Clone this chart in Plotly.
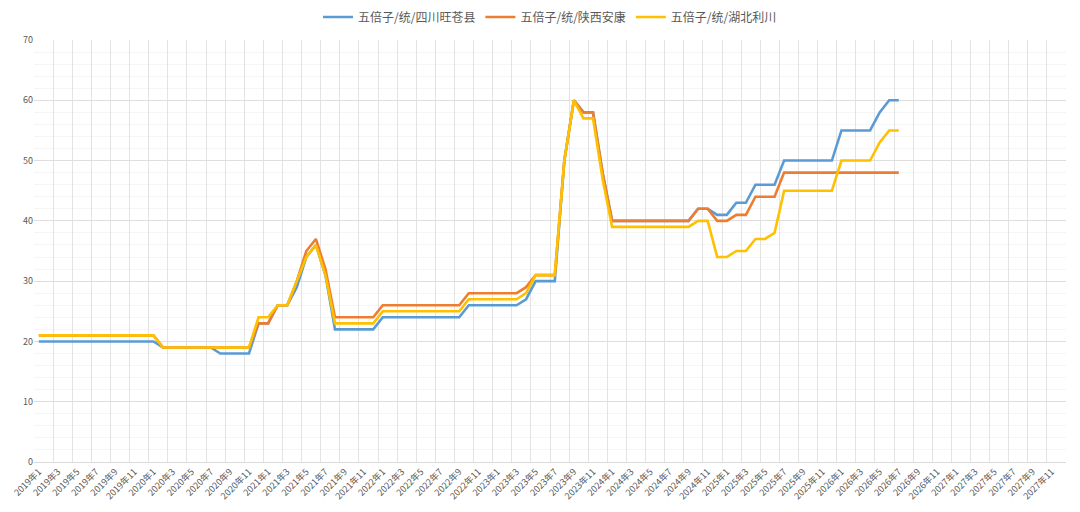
import plotly.graph_objects as go

# 月份类别：2019年1 ~ 2027年12
months = [f"{y}年{m}" for y in range(2019, 2028) for m in range(1, 13)]

# 五倍子/统 价格（2019年1 ~ 2026年7）
wangcang = [20] * 13 + [19] * 6 + [18] * 4 + [23, 23, 26, 26, 29, 34, 36, 31] \
    + [22] * 5 + [24] * 9 + [26] * 6 + [27, 30, 30, 30, 50, 60, 58, 58, 48] \
    + [40] * 9 + [42, 42, 41, 41, 43, 43, 46, 46, 46] + [50] * 6 \
    + [55] * 4 + [58, 60, 60]
ankang = [21] * 13 + [19] * 10 + [23, 23, 26, 26, 30, 35, 37, 32] \
    + [24] * 5 + [26] * 9 + [28] * 6 + [29, 31, 31, 31, 50, 60, 58, 58, 48] \
    + [40] * 9 + [42, 42, 40, 40, 41, 41, 44, 44, 44] + [48] * 6 \
    + [48] * 4 + [48, 48, 48]
lichuan = [21] * 13 + [19] * 10 + [24, 24, 26, 26, 30, 34, 36, 31] \
    + [23] * 5 + [25] * 9 + [27] * 6 + [28, 31, 31, 31, 50, 60, 57, 57, 47] \
    + [39] * 9 + [40, 40, 34, 34, 35, 35, 37, 37, 38] + [45] * 6 \
    + [50] * 4 + [53, 55, 55]

names = ["五倍子/统/四川旺苍县", "五倍子/统/陕西安康", "五倍子/统/湖北利川"]
colors = ["#5B9BD5", "#ED7D31", "#FFC000"]

fig = go.Figure()
for name, vals, c in zip(names, [wangcang, ankang, lichuan], colors):
    fig.add_trace(go.Scatter(
        x=months[:len(vals)], y=vals, name=name, mode="lines",
        line=dict(color=c, width=2.6)))

# 页面 body 默认留 8px 边距，图幅相应缩小
font = "Noto Sans CJK SC, DejaVu Sans, sans-serif"
fig.update_layout(
    width=1064, height=496,
    margin=dict(l=26, r=6, t=32, b=42, autoexpand=False),
    paper_bgcolor="white", plot_bgcolor="white",
    font=dict(family=font, color="#595959", size=9),
    legend=dict(orientation="h", x=0.5, xanchor="center", y=1.0545,
                yanchor="middle", font=dict(size=12, color="#595959"),
                itemwidth=30, tracegroupgap=0),
    showlegend=True,
)
fig.update_xaxes(
    type="category", categoryorder="array", categoryarray=months,
    range=[-0.5, len(months) - 0.5],
    tickmode="linear", tick0=0, dtick=2, tickson="boundaries",
    tickangle=-45, tickfont=dict(size=9, color="#595959"),
    showgrid=True, gridcolor="#e3e3e3", gridwidth=1,
    showline=True, linecolor="#d9d9d9", zeroline=False, ticks="",
)
fig.update_yaxes(
    range=[0, 70], dtick=10, tickfont=dict(size=9, color="#595959"),
    showgrid=True, gridcolor="#dedede", gridwidth=1,
    minor=dict(dtick=2, showgrid=True, gridcolor="#f5f5f5"),
    zeroline=False, showline=False, ticks="",
)

fig.write_html("out.html")
